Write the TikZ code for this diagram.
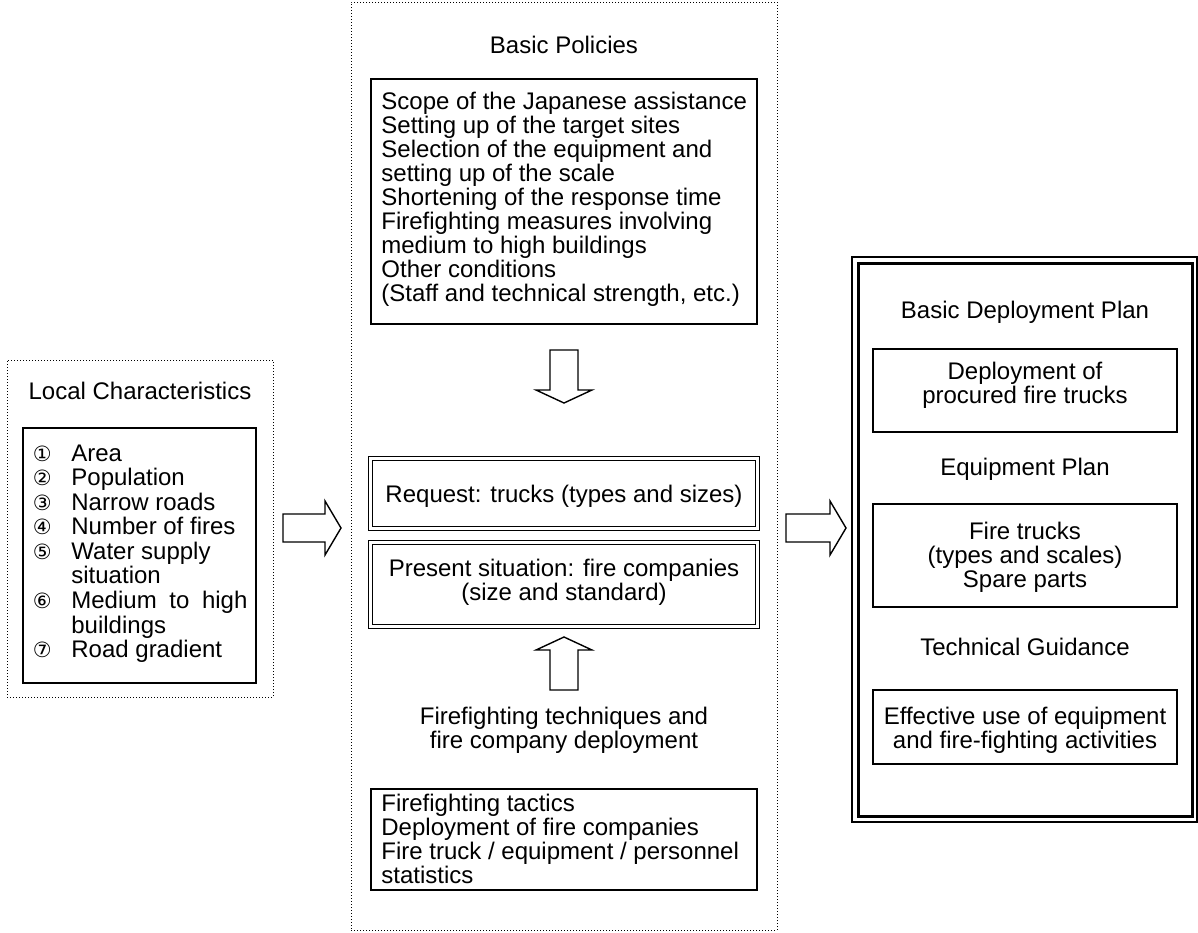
\documentclass[tikz,border=0pt]{standalone}
\usepackage{fontspec}
\setmainfont{Liberation Sans}
\newfontfamily\cnfont{DejaVu Sans}
\newcommand\cnum[1]{\makebox[9pt]{\cnfont\fontsize{10.5}{12}\selectfont #1}}
\newcommand\diagfont{\fontsize{12}{12}\selectfont\lineskiplimit=-20pt\relax}
\newcommand\listfont{\fontsize{12}{12}\selectfont}
\begin{document}
\begin{tikzpicture}[x=0.5pt,y=-0.5pt,
  txt/.style={font=\diagfont, inner sep=0pt},
  mtxt/.style={txt, anchor=north, align=center},
  ltxt/.style={txt, anchor=north west, align=left},
  btxt/.style={txt, anchor=base},
  listtxt/.style={font=\listfont, inner sep=0pt, anchor=north west},
  dotbox/.style={draw, line width=0.5pt, densely dotted, inner sep=0pt},
  sbox/.style={draw, line width=0.7pt, inner sep=0pt},
  dbox/.style={draw, double, line width=0.6pt, double distance=1.4pt, inner sep=0pt},
  thinbox/.style={draw, line width=0.7pt, inner sep=0pt},
  thickbox/.style={draw, line width=1.5pt, inner sep=0pt},
  barrow/.style={draw, line width=0.7pt, fill=white, line join=miter}]
\useasboundingbox (0,0) rectangle (1198,932);

% ---------------- left column ----------------
\node[dotbox, minimum width=133pt, minimum height=168.5pt] (lc) at (140,528.5) {};
\node[btxt] (lct) at (140,399.6) {Local Characteristics};
\node[sbox, minimum width=116.5pt, minimum height=127.5pt] (lcl) at (139.5,555.5) {};
\node[listtxt] (lcitems) at (33,443.8) {%
\begin{tabular}{@{}l@{\hspace{10pt}}l@{}}
\cnum{①} & Area\\
\cnum{②} & Population\\
\cnum{③} & Narrow roads\\
\cnum{④} & Number of fires\\
\cnum{⑤} & Water supply\\
 & situation\\
\cnum{⑥} & \makebox[88pt][s]{Medium to high}\\
 & buildings\\
\cnum{⑦} & Road gradient
\end{tabular}};

% ---------------- middle column ----------------
\node[dotbox, minimum width=213pt, minimum height=464pt] (mid) at (564,466) {};
\node[btxt] (bpt) at (564,53.6) {Basic Policies};
\node[sbox, minimum width=193pt, minimum height=122.5pt] (bpbox) at (564,201.5) {};
\node[ltxt] (bptext) at (381,91.8) {\strut Scope of the Japanese assistance\\
Setting up of the target sites\\
Selection of the equipment and\\
setting up of the scale\\
Shortening of the response time\\
Firefighting measures involving\\
medium to high buildings\\
Other conditions\\
(Staff and technical strength, etc.)};

\coordinate (da) at (564,350);
\draw[barrow] (da) ++(-14,0) -- ++(28,0) -- ++(0,40) -- ++(14,0) -- ++(-28,13) -- ++(-28,-13) -- ++(14,0) -- cycle;

\node[dbox, minimum width=193.5pt, minimum height=35pt] (req) at (564,493.5) {};
\node[btxt] (reqt) at (564,502.6) {Request: trucks (types and sizes)};
\node[dbox, minimum width=193.5pt, minimum height=42pt] (pres) at (564,584.5) {};
\node[mtxt] (prest) at (564,558.8) {\strut Present situation: fire companies\\(size and standard)};

\coordinate (ua) at (564,637);
\draw[barrow] (ua) -- ++(28,13) -- ++(-14,0) -- ++(0,40) -- ++(-28,0) -- ++(0,-40) -- ++(-14,0) -- cycle;

\node[mtxt] (ftt) at (564,706.8) {\strut Firefighting techniques and\\fire company deployment};
\node[sbox, minimum width=193pt, minimum height=50.5pt] (fbox) at (564,839.5) {};
\node[ltxt] (ftext) at (381,793.8) {\strut Firefighting tactics\\
Deployment of fire companies\\
Fire truck / equipment / personnel\\
statistics};

% ---------------- right column ----------------
\node[thinbox, minimum width=172.5pt, minimum height=282.5pt] (rbo) at (1024.5,539.5) {};
\node[thickbox, minimum width=167pt, minimum height=276.5pt] (rbi) at (1025,539.5) {};
\node[btxt] (bdp) at (1025,318.6) {Basic Deployment Plan};
\node[sbox, minimum width=152pt, minimum height=41.5pt] (b1) at (1025,390.5) {};
\node[mtxt] (b1t) at (1025,361.8) {\strut Deployment of\\procured fire trucks};
\node[btxt] (ep) at (1025,475.6) {Equipment Plan};
\node[sbox, minimum width=152pt, minimum height=51.5pt] (b2) at (1025,555.5) {};
\node[mtxt] (b2t) at (1025,521.8) {\strut Fire trucks\\(types and scales)\\Spare parts};
\node[btxt] (tg) at (1025,655.6) {Technical Guidance};
\node[sbox, minimum width=152pt, minimum height=37pt] (b3) at (1025,727) {};
\node[mtxt] (b3t) at (1025,706.8) {\strut Effective use of equipment\\and fire-fighting activities};

% ---------------- block arrows ----------------
\coordinate (la) at (283,528);
\draw[barrow] (la) ++(0,-14) -- ++(42,0) -- ++(0,-13) -- ++(16,27) -- ++(-16,27) -- ++(0,-13) -- ++(-42,0) -- cycle;
\coordinate (ra) at (786,528);
\draw[barrow] (ra) ++(0,-14) -- ++(44,0) -- ++(0,-13) -- ++(16,27) -- ++(-16,27) -- ++(0,-13) -- ++(-44,0) -- cycle;
\end{tikzpicture}
\end{document}
